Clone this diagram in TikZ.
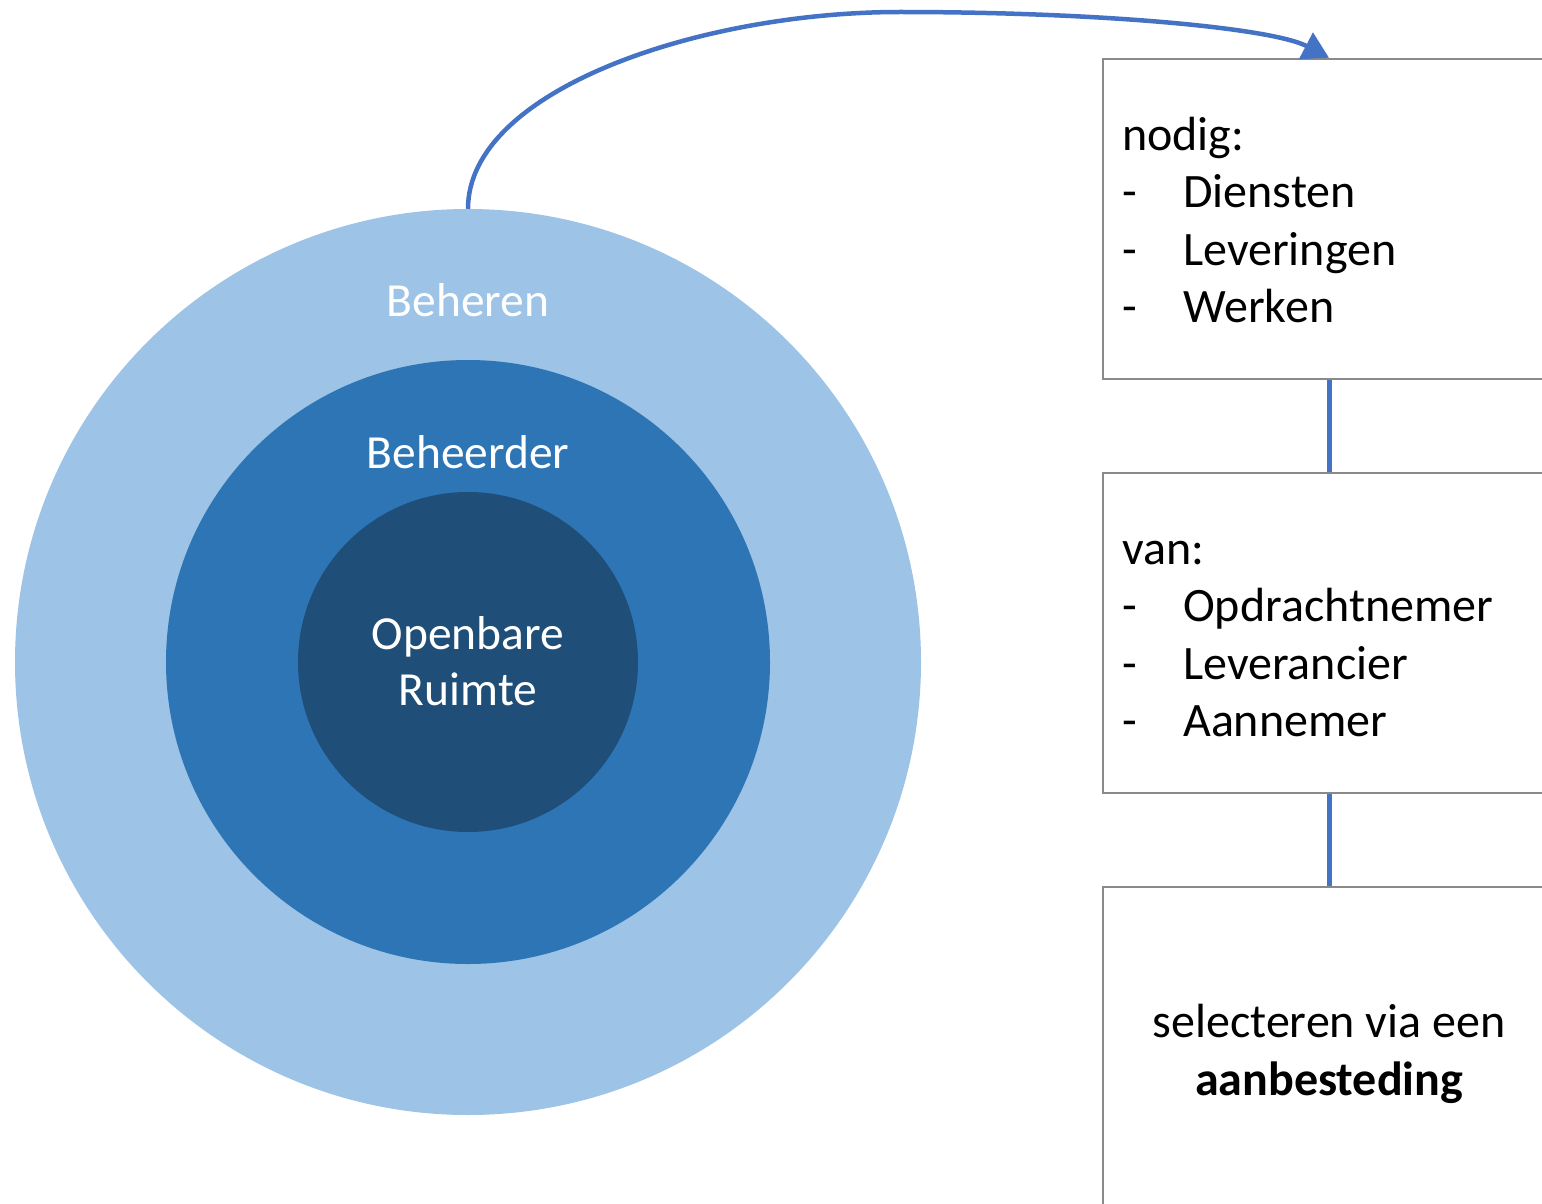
\documentclass[tikz,border=0pt]{standalone}
\usepackage{fontspec}
\setmainfont{Carlito}
\usetikzlibrary{arrows.meta}
\definecolor{ringout}{HTML}{9DC3E6}
\definecolor{ringmid}{HTML}{2E75B6}
\definecolor{ringin}{HTML}{1F4E79}
\definecolor{linkblue}{HTML}{4472C4}
\definecolor{boxgray}{HTML}{8A8A8A}
\tikzset{
  disc/.style={circle, draw=none, inner sep=0pt},
  ringlabel/.style={text=white, inner sep=0pt, anchor=base, font=\fontsize{47.5}{57}\selectfont},
  panel/.style={rectangle, draw=boxgray, line width=2.5pt, fill=white, minimum width=452pt, minimum height=320pt, inner sep=0pt},
  txt/.style={inner sep=0pt, anchor=base west, font=\fontsize{48}{57}\selectfont},
  ctxt/.style={inner sep=0pt, anchor=base, font=\fontsize{48}{57}\selectfont},
  conn/.style={draw=linkblue, line width=5pt},
  arr/.style={draw=linkblue, line width=4.5pt, -{Triangle[length=26pt,width=29pt]}}
}
\begin{document}
\begin{tikzpicture}[x=1pt,y=-1pt]
\clip (0,0) rectangle (1542,1204);
\fill[white] (0,0) rectangle (1542,1204);
% circles
\node[disc, fill=ringout, minimum size=906pt] (outer) at (468,662) {};
\node[disc, fill=ringmid, minimum size=604pt] (mid) at (468,662) {};
\node[disc, fill=ringin, minimum size=340pt] (inner) at (468,662) {};
\node[ringlabel] (lbeheren) at (468,316) {Beheren};
\node[ringlabel] (lbeheerder) at (468,468) {Beheerder};
\node[ringlabel] (lopen) at (468,649) {Openbare};
\node[ringlabel] (lruimte) at (468,705) {Ruimte};
% boxes
\node[panel] (b1) at (1329,219) {};
\node[panel] (b2) at (1329,633) {};
\node[panel] (b3) at (1329,1047) {};
\draw[conn] (b1.south) -- (b2.north);
\draw[conn] (b2.south) -- (b3.north);
% box 1 text
\node[txt] (t1h) at (1122,150) {nodig:};
\node[txt] (t1d1) at (1122,207.5) {-};
\node[txt] (t1a) at (1183,207.5) {Diensten};
\node[txt] (t1d2) at (1122,265) {-};
\node[txt] (t1b) at (1183,265) {Leveringen};
\node[txt] (t1d3) at (1122,322.5) {-};
\node[txt] (t1c) at (1183,322.5) {Werken};
% box 2 text
\node[txt] (t2h) at (1122,564) {van:};
\node[txt] (t2d1) at (1122,621.5) {-};
\node[txt] (t2a) at (1183,621.5) {Opdrachtnemer};
\node[txt] (t2d2) at (1122,679) {-};
\node[txt] (t2b) at (1183,679) {Leverancier};
\node[txt] (t2d3) at (1122,736.5) {-};
\node[txt] (t2c) at (1183,736.5) {Aannemer};
% box 3 text
\node[ctxt] (t3a) at (1329,1037) {selecteren via een};
\node[ctxt] (t3b) at (1329,1095) {\bfseries aanbesteding};
% curved arrow
\draw[arr] (outer.north) .. controls (468,90) and (700,12) .. (900,12)
  .. controls (1100,12) and (1272,28) .. (b1.north);
\end{tikzpicture}
\end{document}
